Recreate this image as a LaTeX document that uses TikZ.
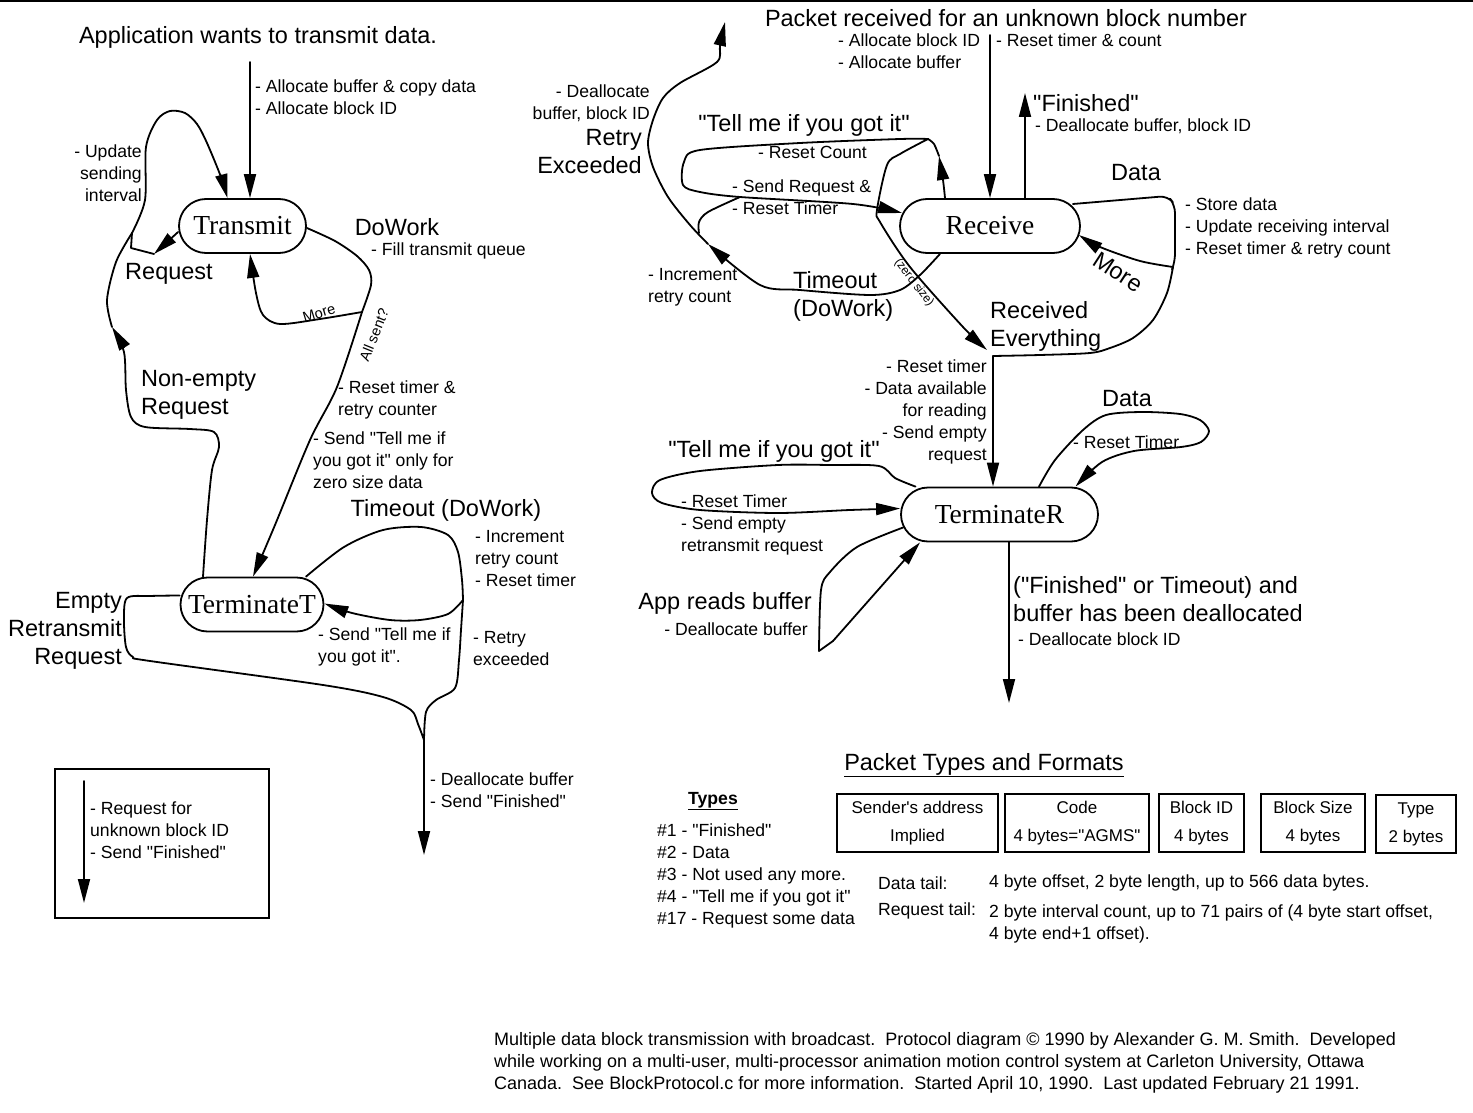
\documentclass[tikz,border=0pt]{standalone}
\usepackage{fontspec}
\setmainfont{Liberation Sans}[Ligatures=TeXOff]
\newfontfamily\statefont{Liberation Serif}
\usetikzlibrary{arrows.meta}
\tikzset{
  ln/.style={line width=1.8pt, line join=round, line cap=round},
  ar/.style={ln, -{Triangle[length=24pt,width=12pt]}},
  big/.style={font=\fontsize{23.5}{28}\selectfont, inner sep=0pt},
  sm/.style={font=\fontsize{17.6}{22}\selectfont, inner sep=0pt},
  tiny/.style={font=\fontsize{14.5}{16}\selectfont, inner sep=0pt},
  state/.style={draw, line width=1.8pt, rounded corners=27pt, minimum height=54pt, inner sep=0pt, font=\statefont\fontsize{27.5}{30}\selectfont},
  cell/.style={draw, line width=1.8pt, inner sep=0pt, minimum height=58pt, align=center, font=\fontsize{17}{28}\selectfont},
}
\begin{document}
\begin{tikzpicture}[x=1pt,y=-1pt]
\useasboundingbox (0,0) rectangle (1473,1113);
\draw[line width=1.5pt] (0,1) -- (1473,1);

% ---------------- states ----------------
\node[state, minimum width=127pt] (T)  at (242.5,226) {Transmit};
\node[state, minimum width=143pt] (TT) at (252,604.5) {TerminateT};
\node[state, minimum width=180pt] (R)  at (990,226) {Receive};
\node[state, minimum width=197pt] (TR) at (999.5,514.5) {TerminateR};

% ---------------- left cluster texts ----------------
\node[big] (app) at (258,37) {Application wants to transmit data.};
\node[sm, anchor=north west, align=left] (alloc1) at (255,80) {- Allocate buffer \& copy data\\- Allocate block ID};
\node[sm, anchor=north east, align=right] (upd) at (142,145) {- Update\\sending\\interval};
\node[big] (reqlbl) at (169,274) {Request};
\node[big] (dowork) at (397,227) {DoWork};
\node[sm, anchor=west] (fill) at (371,251) {- Fill transmit queue};
\node[tiny, rotate=17] (more1) at (319,313) {More};
\node[tiny, rotate=68] (allsent) at (374,335) {All sent?};
\node[sm, anchor=north west, align=left] (reset1) at (338,381) {- Reset timer \&\\retry counter};
\node[sm, anchor=north west, align=left] (send1) at (313,432) {- Send "Tell me if\\you got it" only for\\zero size data};
\node[big, anchor=north west, align=left] (nonempty) at (141,370.5) {Non-empty\\Request};
\node[big] (timeoutT) at (446,510) {Timeout (DoWork)};
\node[sm, anchor=north west, align=left] (incr1) at (475,530) {- Increment\\retry count\\- Reset timer};
\node[sm, anchor=north west, align=left] (sendT) at (318,628) {- Send "Tell me if\\you got it".};
\node[sm, anchor=north west, align=left] (retryex) at (473,631) {- Retry\\exceeded};
\node[big, anchor=north east, align=right] (empty) at (122,592.5) {Empty\\Retransmit\\Request};
\node[sm, anchor=north west, align=left] (dealloc) at (430,773) {- Deallocate buffer\\- Send "Finished"};

% legend box
\draw[line width=1.8pt] (55,769) rectangle (269,918);
\coordinate (legA) at (84,781);
\coordinate (legB) at (84,903);
\draw[ar] (legA) -- (legB);
\node[sm, anchor=north west, align=left] (legtxt) at (90,802) {- Request for\\unknown block ID\\- Send "Finished"};

% ---------------- left cluster connectors ----------------
\coordinate (appsrc) at (250,62);
\draw[ar] (appsrc) -- ([xshift=7.5pt]T.north);

\coordinate (jL) at (132,233);
\draw[ar] plot[smooth] coordinates {(jL) (145,200) (146,147) (157,120) (170,111) (185,113) (197,124) (207,143) (221,177) ([xshift=-15pt]T.north)};
\coordinate (reqtip) at (154,254);
\draw[ar] ([yshift=-6pt]T.west) -- (reqtip);
\draw[ln] (reqtip) -- (131,248) -- (jL);

\coordinate (netip) at (112,327);
\draw[ar] plot[smooth] coordinates {([xshift=-49pt]TT.north) (207,520) (212,470) (219,447) (214,432) (190,429) (145,427) (131,417) (126,390) (124,352) (netip)};
\draw[ln] plot[smooth] coordinates {(netip) (107,300) (116,262) (jL)};

\coordinate (jD) at (362,312);
\draw[ln] plot[smooth] coordinates {([yshift=-2pt]T.east) (335,241) (357,256) (369,270) (371,285) (jD)};
\draw[ar] plot[smooth] coordinates {(jD) (320,319) (280,324) (263,315) (256,293) ([xshift=7.5pt]T.south)};
\draw[ar] plot[smooth] coordinates {(jD) (337,387) (310,440) (275,525) ([xshift=1pt]TT.north)};

\coordinate (jT) at (463,600);
\draw[ln] plot[smooth] coordinates {([xshift=54pt]TT.north) (344,547) (383,530) (421,527) (448,535) (458,552) (462,580) (jT)};
\draw[ar] plot[smooth] coordinates {(jT) (448,614) (420,620) (390,620) (352,613) ([yshift=1pt]TT.east)};
\coordinate (jB) at (424,740);
\draw[ln] plot[smooth] coordinates {(jT) (461,630) (459,660) (455,688) (436,700) (426,712) (jB)};
\coordinate (deallocEnd) at (424,855);
\draw[ar] (jB) -- (deallocEnd);
\draw[ln] plot[smooth] coordinates {([yshift=9pt]TT.west) (150,596) (127,598) (124,620) (126,647) (133,657) (150,661) (323,685) (383,697) (411,710) (418,724) (jB)};

% ---------------- right cluster texts ----------------
\node[big] (pkt) at (1006,18) {Packet received for an unknown block number};
\node[sm, anchor=north west, align=left] (allocR) at (838,34) {- Allocate block ID\\- Allocate buffer};
\node[sm, anchor=west] (resetR) at (996,40) {- Reset timer \& count};
\node[big, anchor=west] (finished) at (1033,103) {"Finished"};
\node[sm, anchor=west] (deallocR) at (1035,126) {- Deallocate buffer, block ID};
\node[big] (data1) at (1136,173) {Data};
\node[sm, anchor=north west, align=left] (store) at (1185,198) {- Store data\\- Update receiving interval\\- Reset timer \& retry count};
\node[big, rotate=-33] (more2) at (1118,272) {More};
\node[big, anchor=north west, align=left] (recev) at (990,301.5) {Received\\Everything};
\node[big] (tellR) at (804,125) {"Tell me if you got it"};
\node[sm, anchor=west] (rcount) at (758,152) {- Reset Count};
\node[sm, anchor=north west, align=left] (sendreq) at (732,180) {- Send Request \&\\- Reset Timer};
\node[big, anchor=north east, align=right] (retryR) at (642,129.5) {Retry\\Exceeded};
\node[sm, anchor=north east, align=right] (deallocR2) at (650,85) {- Deallocate\\buffer, block ID};
\node[sm, anchor=north west, align=left] (incrR) at (648,268) {- Increment\\retry count};
\node[big, anchor=north west, align=left] (timeoutR) at (793,271.5) {Timeout\\(DoWork)};
\node[font=\fontsize{12}{14}\selectfont, inner sep=0pt, rotate=-52] (zero) at (914,283) {(zero size)};
\node[sm, anchor=north east, align=right] (resettR) at (987,360) {- Reset timer\\- Data available\\for reading\\- Send empty\\request};
\node[big] (data2) at (1127,399) {Data};
\node[sm, anchor=west] (rtimer2) at (1073,442) {- Reset Timer};
\node[big] (tellR2) at (774,451) {"Tell me if you got it"};
\node[sm, anchor=north west, align=left] (rtimer3) at (681,495) {- Reset Timer\\- Send empty\\retransmit request};
\node[big, anchor=east] (appreads) at (812,603) {App reads buffer};
\node[sm, anchor=east] (deallocbuf) at (808,629) {- Deallocate buffer};
\node[big, anchor=north west, align=left] (finOr) at (1013,576.5) {("Finished" or Timeout) and\\buffer has been deallocated};
\node[sm, anchor=west] (deallocID) at (1018,639) {- Deallocate block ID};

% ---------------- right cluster connectors ----------------
\coordinate (pktsrc) at (990,35);
\draw[ar] (pktsrc) -- (R.north);
\coordinate (finEnd) at (1025,93);
\draw[ar] ([xshift=35pt]R.north) -- (finEnd);

\coordinate (rc) at (928,139);
\coordinate (upTip) at (939,156);
\draw[ar] plot[smooth] coordinates {([xshift=-45pt]R.north) (943,180) (upTip)};
\draw[ln] plot[smooth] coordinates {(upTip) (934,144) (rc)};
\draw[ar] plot[smooth] coordinates {(rc) (900,139) (800,143) (700,150) (684,162) (683,185) (700,192) (740,197) (853,204) ([xshift=3pt,yshift=13pt]R.west)};
\coordinate (zeroEnd) at (987,350);
\draw[ar] plot[smooth] coordinates {(rc) (900,154) (887,165) (877,210) (880,222) (910,267) (963,327) (zeroEnd)};

\coordinate (tipTO) at (708,244);
\draw[ar] plot[smooth] coordinates {([xshift=-50pt]R.south) (920,275) (900,290) (870,295) (800,290) (760,285) (tipTO)};
\coordinate (retryEnd) at (725,22);
\draw[ar] plot[smooth] coordinates {(tipTO) (690,225) (668,197) (653,167) (648,143) (653,120) (663,98) (680,83) (717,62) (720,45) (retryEnd)};
\coordinate (jTO) at (699,233);
\draw[ln] plot[smooth] coordinates {(jTO) (699,222) (708,212) (740,197)};

\coordinate (jData) at (1173,267);
\draw[ln, rounded corners=8pt] ([xshift=-8pt,yshift=22pt]R.east) -- (1168,196) -- (1175,205) -- (1175,262) -- (jData);
\draw[ar] plot[smooth] coordinates {(jData) (1140,261) (1100,247) ([xshift=-2pt,yshift=-9pt]R.east)};
\coordinate (jRE) at (993,356);
\draw[ln] plot[smooth] coordinates {(jData) (1167,293) (1153,320) (1133,338) (1110,348) (1090,353) (1040,355) (jRE)};
\draw[ar] (jRE) -- ([xshift=-6.5pt]TR.north);

\draw[ar] plot[smooth] coordinates {([xshift=39.5pt]TR.north) (1055,460) (1083,430) (1106,415) (1142,412) (1180,414) (1200,420) (1209,431) (1201,442) (1181,447) (1134,451) (1102,462) ([xshift=76pt]TR.north)};
\draw[ar] plot[smooth] coordinates {([xshift=-84pt]TR.north) (895,478) (879,466) (830,465) (778,465) (700,471) (660,480) (652,493) (662,503) (700,510) (778,513) (850,510) ([yshift=6pt]TR.west)};
\coordinate (appB) at (819,651);
\draw[ln] plot[smooth] coordinates {([xshift=3pt,yshift=-13pt]TR.west) (857,547) (830,572) (821,590) (appB)};
\draw[ar] (appB) -- (833,641) -- ([xshift=-79.5pt]TR.south);
\coordinate (trEnd) at (1009,703);
\draw[ar] ([xshift=9.5pt]TR.south) -- (trEnd);

% ---------------- packet types ----------------
\node[big] (ptitle) at (984,765) {\underline{Packet Types and Formats}};
\node[sm] (types) at (713,801) {\textbf{\underline{Types}}};
\node[sm, anchor=north west, align=left] (tlist) at (657,824) {\#1 - "Finished"\\\#2 - Data\\\#3 - Not used any more.\\\#4 - "Tell me if you got it"\\\#17 - Request some data};
\node[cell, minimum width=161pt] (c1) at (917.5,823) {Sender's address\\Implied};
\node[cell, minimum width=144pt] (c2) at (1077,823) {Code\\4 bytes="AGMS"};
\node[cell, minimum width=85pt] (c3) at (1201.5,823) {Block ID\\4 bytes};
\node[cell, minimum width=104pt] (c4) at (1313,823) {Block Size\\4 bytes};
\node[cell, minimum width=80pt] (c5) at (1416,824) {Type\\2 bytes};
\node[sm, anchor=west] (dtail) at (878,883) {Data tail:};
\node[sm, anchor=west] (dtailtxt) at (989,883) {4 byte offset, 2 byte length, up to 566 data bytes.};
\node[sm, anchor=west] (rtail) at (878,911) {Request tail:};
\node[sm, anchor=north west, align=left] (rtailtxt) at (989,905) {2 byte interval count, up to 71 pairs of (4 byte start offset,\\4 byte end+1 offset).};

% ---------------- credits ----------------
\node[font=\fontsize{18}{22}\selectfont, inner sep=0pt, anchor=north west, align=left] (credit) at (494,1032) {Multiple data block transmission with broadcast.\ \ Protocol diagram © 1990 by Alexander G. M. Smith.\ \ Developed\\while working on a multi-user, multi-processor animation motion control system at Carleton University, Ottawa\\Canada.\ \ See BlockProtocol.c for more information.\ \ Started April 10, 1990.\ \ Last updated February 21 1991.};
\end{tikzpicture}
\end{document}
